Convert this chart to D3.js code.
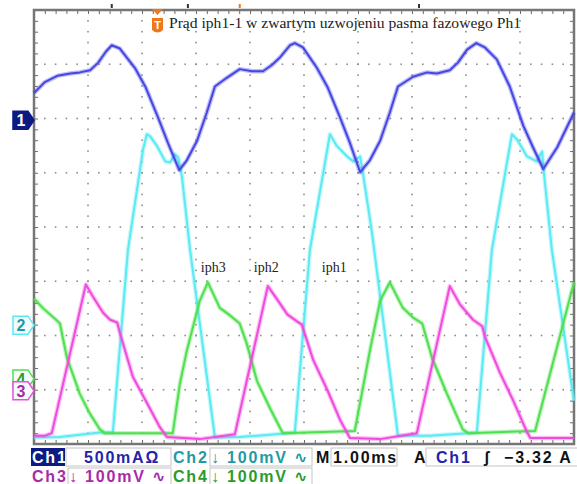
<!DOCTYPE html>
<html>
<head>
<meta charset="utf-8">
<script src="https://cdn.jsdelivr.net/npm/d3@7"></script>
<style>
  body { margin: 0; background: #fff; }
  svg { display: block; }
</style>
</head>
<body>
<svg></svg>
<script>
var width = 577;
var height = 484;

// graticule frame (10 x 8 divisions)
var plotLeft = 34, plotRight = 574, plotTop = 10, plotBottom = 444;

// [time in ms, current in A]
var ch1Data = [[0.00,0.25],[0.20,0.35],[0.44,0.41],[0.67,0.43],[0.85,0.44],[1.04,0.46],[1.19,0.53],[1.33,0.63],[1.44,0.69],[1.59,0.66],[1.87,0.48],[2.07,0.30],[2.30,0.02],[2.48,-0.21],[2.69,-0.46],
  [2.83,-0.37],[3.02,-0.19],[3.20,0.07],[3.35,0.31],[3.57,0.39],[3.81,0.47],[4.04,0.45],[4.24,0.45],[4.41,0.51],[4.56,0.58],[4.74,0.69],[4.83,0.71],[4.98,0.67],[5.24,0.48],[5.44,0.30],[5.67,0.02],[5.85,-0.21],[6.04,-0.48],
  [6.22,-0.37],[6.41,-0.19],[6.59,0.07],[6.74,0.31],[7.02,0.40],[7.28,0.44],[7.46,0.43],[7.70,0.46],[7.85,0.53],[8.02,0.65],[8.19,0.71],[8.35,0.67],[8.57,0.56],[8.81,0.31],[9.06,-0.05],[9.24,-0.25],[9.43,-0.45],[9.69,-0.25],[10.00,0.07]];

// [time in ms, mV]
var ch2Data = [[0,-207],[0.48,-206],[0.85,-202],[1.22,-198],[1.46,-198],[1.74,139],[2.02,324],[2.09,352],[2.15,348],[2.28,330],[2.43,302],[2.52,300],[2.61,315],[2.67,309],[2.74,274],[2.89,139],[3.35,-207],
  [3.81,-206],[4.37,-202],[4.83,-198],[5.11,139],[5.48,352],[5.61,330],[5.80,311],[5.91,302],[6.04,311],[6.09,281],[6.26,170],[6.74,-204],
  [7.33,-204],[7.89,-200],[8.20,-198],[8.48,139],[8.85,352],[8.94,343],[9.13,311],[9.31,302],[9.41,320],[9.43,293],[9.59,139],[9.98,-126],[10,-139]];

var ch3Data = [[0,-83],[0.20,-83],[0.33,-78],[0.96,196],[1.09,174],[1.28,144],[1.41,131],[1.54,126],[1.59,107],[1.83,26],[2.09,-22],[2.33,-67],[2.46,-85],[3.07,-89],[3.72,-80],
  [4.33,193],[4.50,169],[4.69,141],[4.87,128],[4.96,122],[5.17,57],[5.43,2],[5.67,-54],[5.85,-87],[6.41,-89],[7.09,-78],
  [7.70,193],[7.89,159],[8.13,131],[8.30,119],[8.35,100],[8.63,33],[8.87,-17],[9.13,-76],[9.19,-87],[10,-87]];

var ch4Data = [[0,148],[0.17,130],[0.43,107],[0.48,102],[0.61,39],[0.85,-28],[1.04,-65],[1.22,-93],[1.31,-100],[2.57,-100],[2.70,-10],[2.83,52],[3.07,144],[3.22,178],
  [3.44,131],[3.63,117],[3.81,102],[3.94,65],[4.13,-4],[4.37,-54],[4.56,-91],[4.61,-100],[5.94,-96],[6.22,52],[6.41,144],[6.59,178],
  [6.83,131],[7.02,113],[7.19,102],[7.37,39],[7.65,-28],[7.94,-93],[8.04,-100],[9.28,-96],[10,178]];

var channelData = [ch1Data, ch2Data, ch3Data, ch4Data];
var channelNames = ["1", "2", "3", "4"];
var unitsPerDiv = [0.5, 100, 100, 100];
var groundDiv = [1.97, -1.81, -3.02, -2.8];
var channelColors = ["#4646e4", "#5aeaf4", "#f04ade", "#4ee04e"];
var textColors = ["#2424a6", "#1f9aa6", "#a82aa8", "#2a9c2a"];

var title = "Prąd iph1-1 w zwartym uzwojeniu pasma fazowego Ph1";
var phaseLabels = ["iph3", "iph2", "iph1"];
var phaseLabelTimes = [3.09, 4.07, 5.33];

var ch1Scale = "500mAΩ";
var otherScale = "↓ 100mV ∿";
var timebase = "1.00ms";
var triggerLevel = "−3.32 A";

var svg = d3.select("svg")
    .attr("width", width)
    .attr("height", height)
    .style("background", "#fff");

var xScale = d3.scaleLinear().domain([0, 10]).range([plotLeft, plotRight]);
var yScale = d3.scaleLinear().domain([-4, 4]).range([plotBottom, plotTop]);

// dotted graticule, a dot every 1/5 division
var minorX = d3.range(0, 51).map(d => d / 5);
var minorY = d3.range(-20, 21).map(d => d / 5);

var grid = svg.append("g").attr("fill", "#8e8e8e");
grid.selectAll("rect.col")
    .data(d3.cross(d3.range(1, 10), minorY))
    .join("rect")
      .attr("class", "col")
      .attr("x", d => xScale(d[0]) - 0.8)
      .attr("y", d => yScale(d[1]) - 0.8)
      .attr("width", 1.6)
      .attr("height", 1.6);
grid.selectAll("rect.row")
    .data(d3.cross(minorX, d3.range(-3, 4)))
    .join("rect")
      .attr("class", "row")
      .attr("x", d => xScale(d[0]) - 0.8)
      .attr("y", d => yScale(d[1]) - 0.8)
      .attr("width", 1.6)
      .attr("height", 1.6);

// minor ticks on the inside of the frame
function tickStyle(g) {
  g.select(".domain").remove();
  g.selectAll("line").attr("stroke", "#6a6a6a").attr("stroke-width", 1);
}
svg.append("g").attr("transform", `translate(0,${plotTop})`)
    .call(d3.axisTop(xScale).tickValues(minorX).tickSize(-4).tickFormat(""))
    .call(tickStyle);
svg.append("g").attr("transform", `translate(0,${plotBottom})`)
    .call(d3.axisBottom(xScale).tickValues(minorX).tickSize(-4).tickFormat(""))
    .call(tickStyle);
svg.append("g").attr("transform", `translate(${plotLeft},0)`)
    .call(d3.axisLeft(yScale).tickValues(minorY).tickSize(-4).tickFormat(""))
    .call(tickStyle);
svg.append("g").attr("transform", `translate(${plotRight},0)`)
    .call(d3.axisRight(yScale).tickValues(minorY).tickSize(-4).tickFormat(""))
    .call(tickStyle);

svg.append("rect")
    .attr("x", plotLeft)
    .attr("y", plotTop)
    .attr("width", plotRight - plotLeft)
    .attr("height", plotBottom - plotTop)
    .attr("fill", "none")
    .attr("stroke", "#767676")
    .attr("stroke-width", 2.5);

// small cursor marks above the frame
svg.selectAll("rect.mark")
    .data([[1.44, "#333"], [2.85, "#333"], [7.13, "#333"], [3.81, "#f07818"]])
    .join("rect")
      .attr("class", "mark")
      .attr("x", d => xScale(d[0]) - 1)
      .attr("y", 4)
      .attr("width", 2)
      .attr("height", 4)
      .attr("fill", d => d[1]);

// traces
var drawOrder = [1, 3, 2, 0];
drawOrder.forEach(function(i) {
  var line = d3.line()
      .x(d => xScale(d[0]))
      .y(d => yScale(groundDiv[i] + d[1] / unitsPerDiv[i]));
  svg.append("path")
      .datum(channelData[i])
      .attr("d", line)
      .attr("fill", "none")
      .attr("stroke", channelColors[i])
      .attr("stroke-opacity", 0.35)
      .attr("stroke-width", 4.5)
      .attr("stroke-linejoin", "round");
  svg.append("path")
      .datum(channelData[i])
      .attr("d", line)
      .attr("fill", "none")
      .attr("stroke", channelColors[i])
      .attr("stroke-width", 2)
      .attr("stroke-linejoin", "round");
});

// title + trigger position marker
var trigX = 157.5;
svg.append("path")
    .attr("d", `M${trigX - 5.5},9 L${trigX + 5.5},9 L${trigX},15 Z`)
    .attr("fill", "#f07818");
svg.append("path")
    .attr("d", `M${trigX - 5.5},18 L${trigX + 5.5},18 L${trigX + 5.5},30 Q${trigX},35 ${trigX - 5.5},30 Z`)
    .attr("fill", "#f07818");
svg.append("text")
    .attr("x", trigX)
    .attr("y", 29)
    .attr("text-anchor", "middle")
    .attr("fill", "#fff")
    .style("font", "bold 11px 'Liberation Sans', sans-serif")
    .text("T");

svg.append("text")
    .attr("x", 169)
    .attr("y", 28)
    .attr("fill", "#222")
    .style("font", "15.6px 'Liberation Serif', serif")
    .text(title);

svg.selectAll("text.phase")
    .data(phaseLabels)
    .join("text")
      .attr("class", "phase")
      .attr("x", (d, i) => xScale(phaseLabelTimes[i]))
      .attr("y", 272)
      .attr("fill", "#222")
      .style("font", "14px 'Liberation Serif', serif")
      .text(d => d);

// channel ground markers on the left (4 sits under 3, as on the scope)
var markers = svg.append("g");
[3, 2, 1, 0].forEach(function(i) {
  var y = yScale(groundDiv[i]);
  var filled = i === 0;
  markers.append("path")
      .attr("d", `M13,${y - 9} L28,${y - 9} L34,${y} L28,${y + 9} L13,${y + 9} Z`)
      .attr("fill", filled ? "#0c1a84" : "#f4fbfb")
      .attr("stroke", filled ? "#0c1a84" : channelColors[i])
      .attr("stroke-width", 1.5);
  markers.append("text")
      .attr("x", 21)
      .attr("y", y + 6)
      .attr("text-anchor", "middle")
      .attr("fill", filled ? "#fff" : textColors[i])
      .style("font", "bold 16px 'Liberation Sans', sans-serif")
      .text(channelNames[i]);
});

// status readout under the graticule
var statusBar = svg.append("g")
    .style("font", "bold 16px 'Liberation Sans', 'DejaVu Sans', sans-serif")
    .style("letter-spacing", "1.8px");

function box(x0, x1, y0) {
  statusBar.append("rect")
      .attr("x", x0).attr("y", y0)
      .attr("width", x1 - x0).attr("height", 18)
      .attr("fill", "#fff")
      .attr("stroke", "#c4c4c4");
}
function label(x, y, txt, color) {
  statusBar.append("text").attr("x", x).attr("y", y).attr("fill", color).text(txt);
}

box(66, 171, 448);
box(210, 312, 448);
box(331, 397, 448);
box(426, 578, 448);
box(68, 171, 468);
box(210, 312, 468);

statusBar.append("rect").attr("x", 31).attr("y", 448).attr("width", 34).attr("height", 18).attr("fill", "#0c1a84");
label(32, 463, "Ch" + channelNames[0], "#fff");
label(84, 463, ch1Scale, textColors[0]);
label(173, 463, "Ch" + channelNames[1], textColors[1]);
label(211, 463, otherScale, textColors[1]);
label(316, 463, "M", "#111");
label(333, 463, timebase, "#111");
label(414, 463, "A", "#111");
label(436, 463, "Ch" + channelNames[0], textColors[0]);
label(484, 463, "ʃ", "#111");
label(504, 463, triggerLevel, "#111");

label(32, 482, "Ch" + channelNames[2], textColors[2]);
label(69, 482, otherScale, textColors[2]);
label(173, 482, "Ch" + channelNames[3], textColors[3]);
label(211, 482, otherScale, textColors[3]);
</script>
</body>
</html>
